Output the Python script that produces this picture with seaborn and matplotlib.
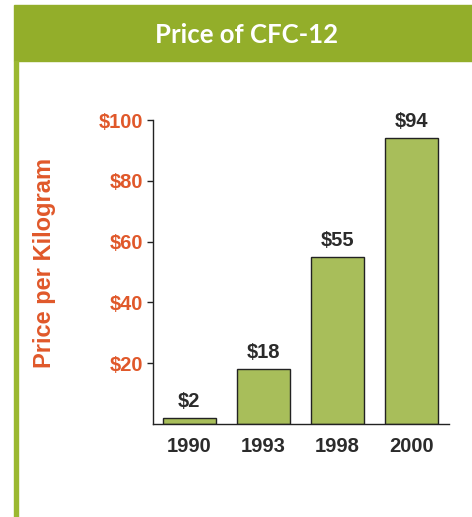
import matplotlib
matplotlib.use("Agg")
import matplotlib.pyplot as plt
import seaborn as sns
import pandas as pd
from matplotlib.patches import Rectangle

years = ["1990", "1993", "1998", "2000"]
prices = [2, 18, 55, 94]
bar_labels = ["$2", "$18", "$55", "$94"]
yticks = [20, 40, 60, 80, 100]
ytick_labels = ["$20", "$40", "$60", "$80", "$100"]
title = "Price of CFC-12"
ylabel = "Price per Kilogram"

df = pd.DataFrame({"year": years, "price": prices})

sns.set_style("white")
plt.rcParams["font.family"] = ["Liberation Sans", "DejaVu Sans"]

W, H = 472, 517
fig = plt.figure(figsize=(W / 100, H / 100), dpi=100)

green = "#93AE2A"
bar_green = "#A8BE5A"
orange = "#E0582A"
dark = "#2B2B2B"
fs = 14.5

# banner and left border
fig.patches.append(Rectangle((14 / W, 1 - 61 / H), (W - 14) / W, 56 / H,
                             transform=fig.transFigure, color=green, zorder=0))
fig.patches.append(Rectangle((14 / W, 0), 3.8 / W, 1 - 61 / H,
                             transform=fig.transFigure, color="#9BB830", zorder=0))
fig.text(246 / W, 1 - 35 / H, title, ha="center", va="center", color="white",
         fontsize=18.5, fontweight="bold", family=["Lato", "DejaVu Sans"])

ax = fig.add_axes([153 / W, 1 - 424 / H, (449 - 153) / W, (424 - 120) / H])
sns.barplot(data=df, x="year", y="price", ax=ax, color=bar_green,
            edgecolor="#222222", linewidth=1.0, width=0.72, saturation=1)
ax.set_xlim(-0.49, 3.51)
ax.set_ylim(0, 100)

for p, lab in zip(ax.patches, bar_labels):
    ax.annotate(lab, (p.get_x() + p.get_width() / 2, p.get_height()),
                xytext=(0, 5), textcoords="offset points", ha="center", va="bottom",
                fontsize=fs, fontweight="bold", color=dark)

ax.set_yticks(yticks)
ax.set_yticklabels(ytick_labels, color=orange, fontsize=fs, fontweight="bold")
ax.tick_params(axis="y", direction="out", length=4, width=1, color="#222222", pad=3, left=True)
ax.tick_params(axis="x", length=0, pad=9.5, labelsize=fs, labelcolor=dark)
for t in ax.get_xticklabels():
    t.set_fontweight("bold")
ax.set_xlabel("")
ax.set_ylabel("")
for s in ["top", "right"]:
    ax.spines[s].set_visible(False)
for s in ["left", "bottom"]:
    ax.spines[s].set_color("#222222")
    ax.spines[s].set_linewidth(1.0)

fig.text(45 / W, 1 - 263 / H, ylabel, rotation=90, ha="center", va="center",
         color=orange, fontsize=17, fontweight="bold")

fig.savefig("out.png", dpi=100)
